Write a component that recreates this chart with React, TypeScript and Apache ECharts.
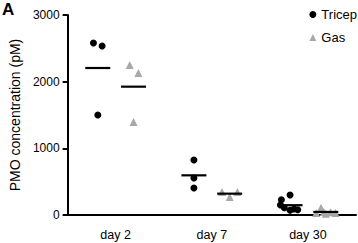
import React, { useEffect, useRef } from "react";
import * as echarts from "echarts";

const categories = ["day 2", "day 7", "day 30"];
const yTicks = [0, 1000, 2000, 3000];

const tricepValues = [
  [2580, 2535, 1500],
  [825, 555, 405],
  [300, 230, 150, 90, 70, 80, 110],
];
const tricepJitter = [
  [-0.045, 0.045, 0],
  [0, 0, 0],
  [0, -0.09, -0.1, 0.04, 0.0, 0.08, -0.06],
];
const gasValues = [
  [2250, 2130, 1395],
  [345, 270, 345],
  [110, 40, 30, 20, 30, 45],
];
const gasJitter = [
  [-0.04, 0.05, 0],
  [-0.08, 0, 0.08],
  [-0.05, 0.05, -0.1, 0.0, 0.1, -0.02],
];

const mean = (a: number[]) => a.reduce((s, v) => s + v, 0) / a.length;

export default function App() {
  const ref = useRef<HTMLDivElement>(null);
  useEffect(() => {
    const chart = echarts.init(ref.current!, null, { renderer: "svg" });
    const font = "Liberation Sans, Arial, sans-serif";
    const off = 0.186;
    const pts = (vals: number[][], jit: number[][], sign: number) =>
      vals.flatMap((arr, i) => arr.map((v, j) => [i + 0.5 + sign * off + jit[i][j], v]));
    const means = (vals: number[][], sign: number) =>
      vals.map((arr, i) => [i + 0.5 + sign * off, mean(arr)]);
    chart.setOption({
      animation: false,
      textStyle: { fontFamily: font },
      grid: { left: 58, right: 2, top: 15, bottom: 28 },
      legend: {
        data: [
          { name: "Tricep", icon: "circle", itemStyle: { color: "#000" } },
          { name: "Gas", icon: "triangle", itemStyle: { color: "#a8a8a8" } },
        ],
        orient: "vertical",
        right: 1,
        top: 8,
        padding: 0,
        itemWidth: 7,
        itemHeight: 7,
        itemGap: 10,
        textStyle: { fontSize: 13, color: "#000", fontFamily: font },
      },
      graphic: [
        {
          type: "text",
          left: 2,
          top: 1,
          style: { text: "A", font: "bold 17px Liberation Sans, Arial, sans-serif", fill: "#000" },
        },
      ],
      xAxis: [
        {
          type: "category",
          data: categories,
          boundaryGap: true,
          axisLine: { lineStyle: { color: "#000", width: 2 } },
          axisTick: { alignWithLabel: true, length: 5, lineStyle: { color: "#000", width: 2 } },
          axisLabel: { color: "#000", fontSize: 12.5, margin: 13, fontFamily: font },
        },
        { type: "value", min: 0, max: 3, show: false },
      ],
      yAxis: {
        type: "value",
        min: 0,
        max: 3000,
        interval: 1000,
        name: "PMO concentration (pM)",
        nameLocation: "middle",
        nameRotate: 90,
        nameGap: 44,
        nameTextStyle: { fontSize: 14, color: "#000", fontFamily: font },
        axisLine: { show: true, lineStyle: { color: "#000", width: 2 } },
        axisTick: { show: true, length: 5, lineStyle: { color: "#000", width: 2 } },
        axisLabel: { color: "#000", fontSize: 12, margin: 8, fontFamily: font, formatter: (v: number) => (yTicks.includes(v) ? String(v) : "") },
        splitLine: { show: false },
      },
      series: [
        {
          name: "Tricep",
          type: "scatter",
          xAxisIndex: 1,
          symbol: "circle",
          symbolSize: 7,
          itemStyle: { color: "#000", opacity: 1 },
          data: pts(tricepValues, tricepJitter, -1),
        },
        {
          name: "Gas",
          type: "scatter",
          xAxisIndex: 1,
          symbol: "triangle",
          symbolSize: 8,
          itemStyle: { color: "#a8a8a8", opacity: 1 },
          data: pts(gasValues, gasJitter, 1),
        },
        {
          name: "TricepMean",
          type: "scatter",
          xAxisIndex: 1,
          symbol: "rect",
          symbolSize: [25, 2.2],
          itemStyle: { color: "#000", opacity: 1 },
          data: means(tricepValues, -1),
          z: 3,
        },
        {
          name: "GasMean",
          type: "scatter",
          xAxisIndex: 1,
          symbol: "rect",
          symbolSize: [25, 2.2],
          itemStyle: { color: "#000", opacity: 1 },
          data: means(gasValues, 1),
          z: 3,
        },
      ],
    });
    return () => chart.dispose();
  }, []);
  return <div ref={ref} style={{ width: 358, height: 243, position: "absolute", left: 0, top: 0 }} />;
}
